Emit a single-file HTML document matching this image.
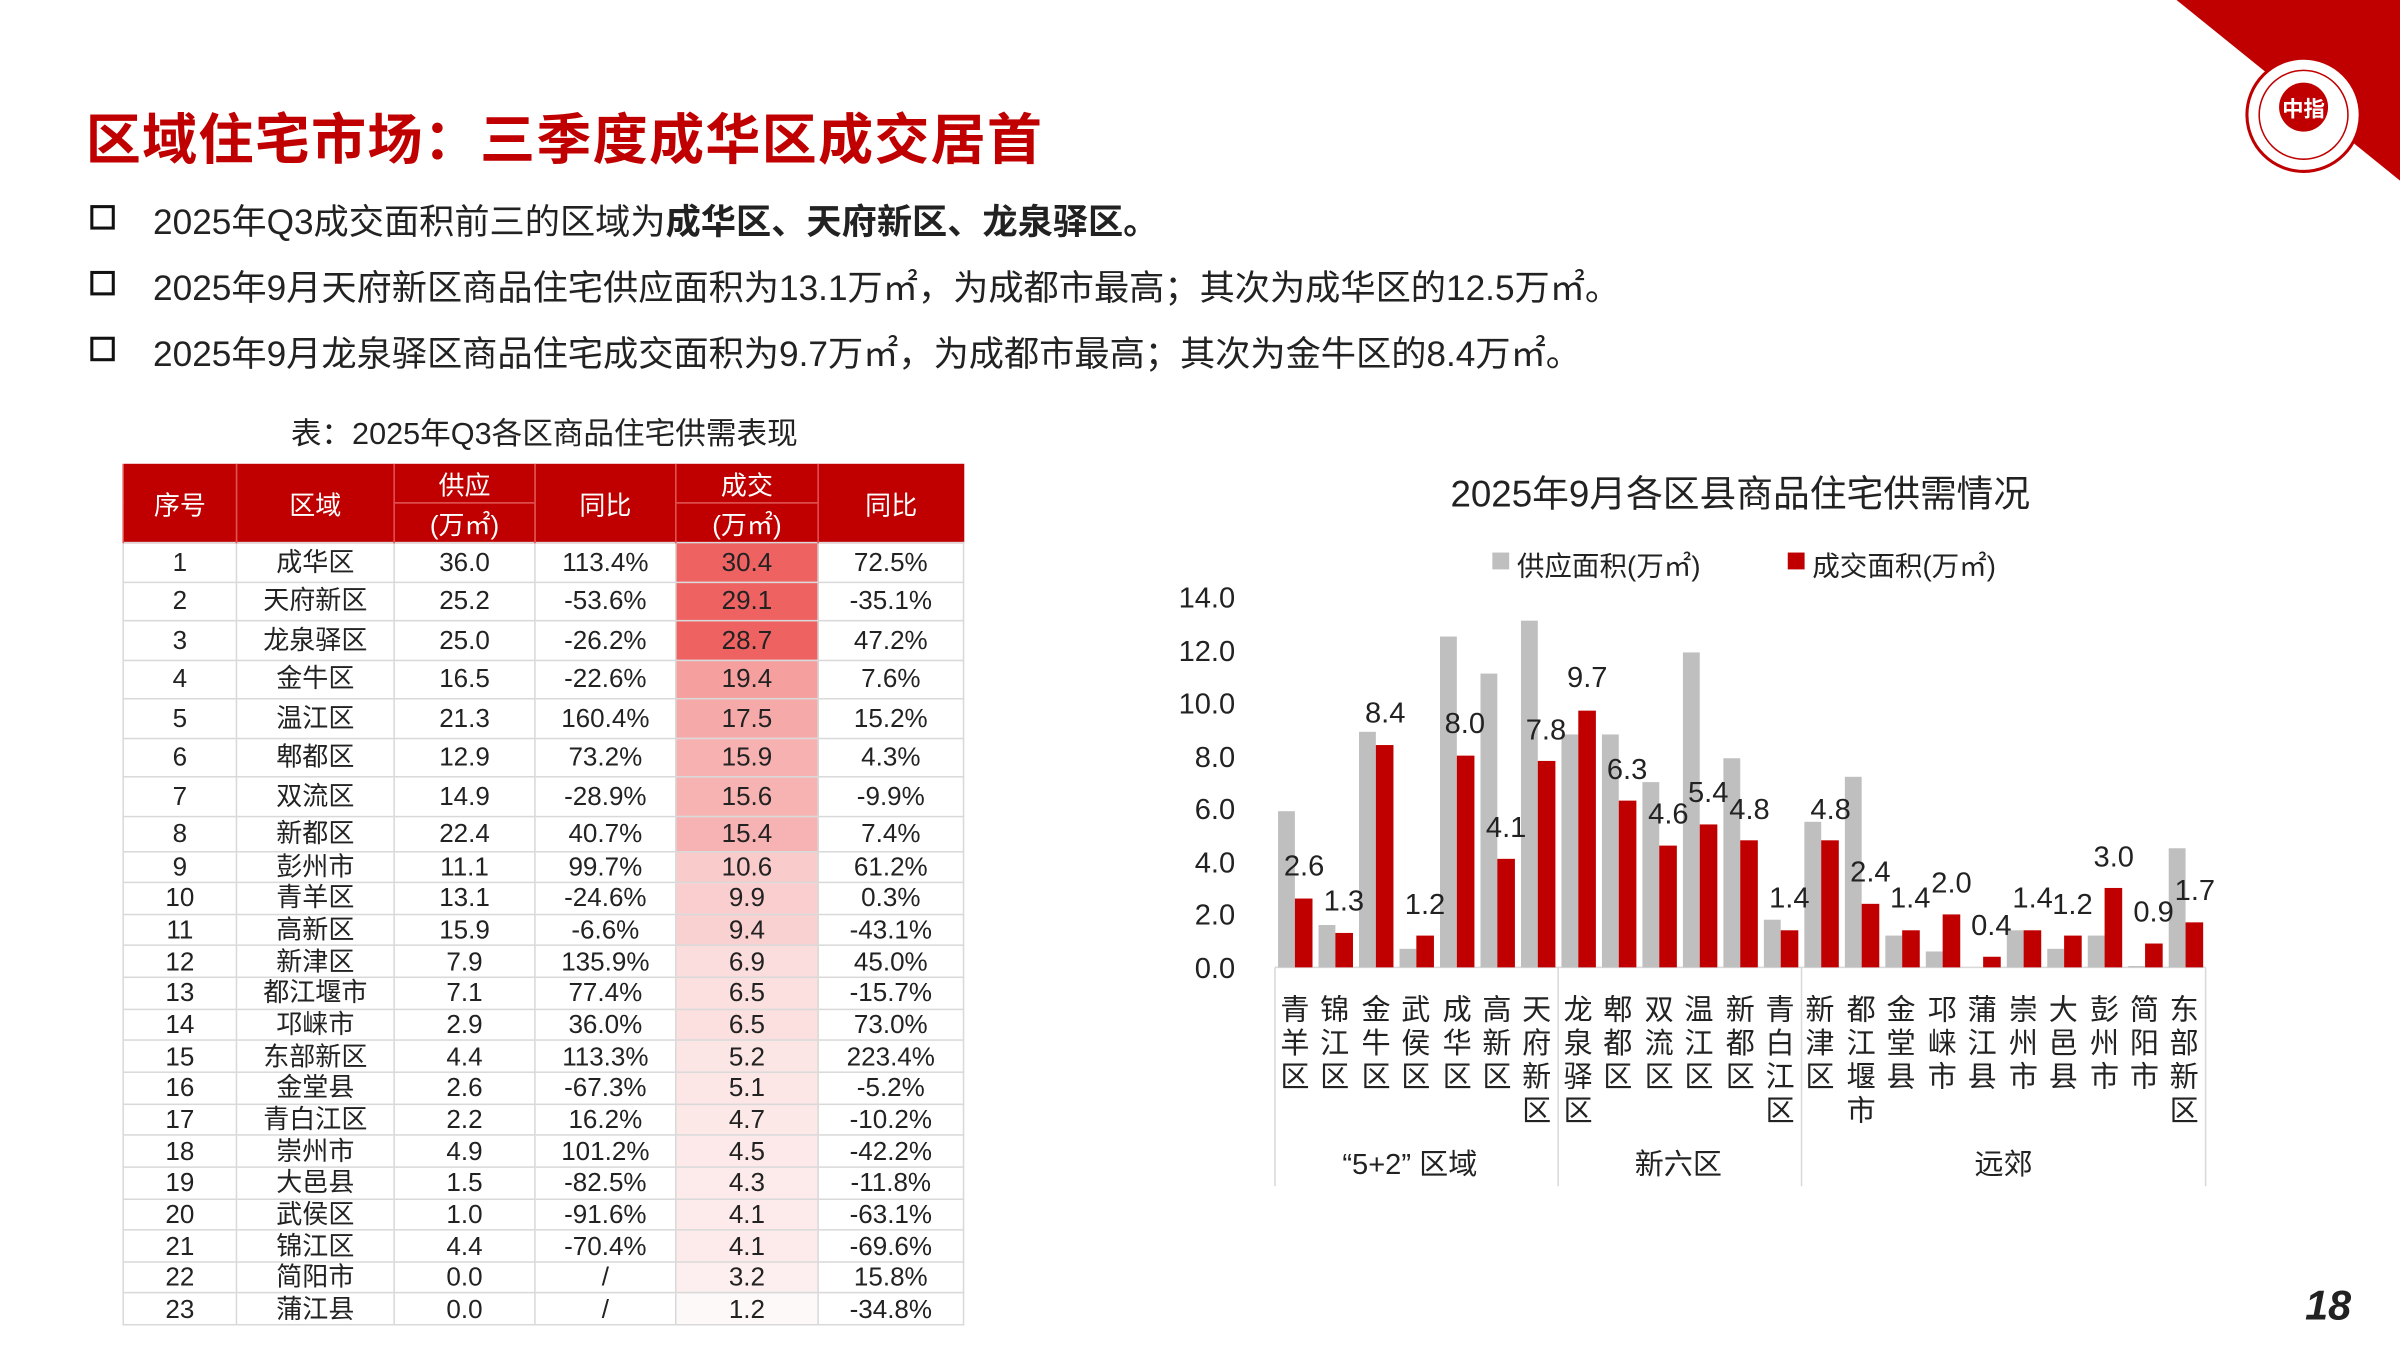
<!DOCTYPE html>
<html><head><meta charset="utf-8">
<style>
html,body{margin:0;padding:0;width:2400px;height:1350px;overflow:hidden;background:#fff}
#w{position:absolute;left:0;top:0;width:1568px;height:882px;transform:scale(1.53061);transform-origin:0 0;font-family:"Liberation Sans","Noto Sans CJK SC",sans-serif;color:#222}
.a{position:absolute;white-space:nowrap}
.title{left:56px;top:63px;font-size:36px;font-weight:bold;color:#c00000;letter-spacing:0.8px}
.bl{left:100px;font-size:23px;color:#222}
.bx{position:absolute;left:59px;width:12px;height:12px;border:2.5px solid #111}
table{position:absolute;left:80px;top:303px;border-collapse:collapse;font-size:17px;table-layout:fixed}
td{border:1px solid #d9d9d9;text-align:center;padding:0;line-height:1}
th{background:#c00000;color:#fff;font-weight:normal;font-size:17px;border-left:1px solid #e05050;padding:0}
.cat{position:absolute;top:650px;width:22px;font-size:19px;line-height:22px;text-align:center;white-space:normal;word-break:break-all;color:#222}
</style></head><body><div id="w">
<svg class="a" style="left:0;top:0" width="1568" height="882">
<polygon points="1422,0 1568,0 1568,118" fill="#c00000"/>
<circle cx="1505" cy="75" r="37" fill="#fff" stroke="#c00000" stroke-width="2"/>
<circle cx="1505" cy="75" r="29" fill="none" stroke="#c00000" stroke-width="1"/>
<circle cx="1505" cy="70" r="16" fill="#c00000"/>
<text x="1505" y="76" font-size="14" fill="#fff" text-anchor="middle" font-weight="bold" font-family="Noto Sans CJK SC">中指</text>
<line x1="833" y1="632" x2="1441" y2="632" stroke="#d9d9d9"/>
<g stroke="#d9d9d9" stroke-width="1"><line x1="833" y1="632" x2="833" y2="775"/><line x1="1018" y1="632" x2="1018" y2="775"/><line x1="1177" y1="632" x2="1177" y2="775"/><line x1="1441" y1="632" x2="1441" y2="775"/></g>
<g id="bars"></g>
<g font-size="19" fill="#222" text-anchor="end" font-family="Liberation Sans">
<text x="807" y="397">14.0</text><text x="807" y="432">12.0</text><text x="807" y="466">10.0</text><text x="807" y="501">8.0</text><text x="807" y="535">6.0</text><text x="807" y="570">4.0</text><text x="807" y="604">2.0</text><text x="807" y="639">0.0</text>
</g>
<g font-size="19" fill="#222" text-anchor="middle" font-family="Liberation Sans">
<text x="852" y="572">2.6</text><text x="878" y="595">1.3</text><text x="905" y="472">8.4</text><text x="931" y="597">1.2</text><text x="957" y="479">8.0</text><text x="984" y="547">4.1</text><text x="1010" y="483">7.8</text><text x="1037" y="449">9.7</text><text x="1063" y="509">6.3</text><text x="1090" y="538">4.6</text><text x="1116" y="524">5.4</text><text x="1143" y="535">4.8</text><text x="1169" y="593">1.4</text><text x="1196" y="535">4.8</text><text x="1222" y="576">2.4</text><text x="1248" y="593">1.4</text><text x="1275" y="583">2.0</text><text x="1301" y="611">0.4</text><text x="1328" y="593">1.4</text><text x="1354" y="597">1.2</text><text x="1381" y="566">3.0</text><text x="1407" y="602">0.9</text><text x="1434" y="588">1.7</text>
</g>
<rect x="975" y="361" width="11" height="11" fill="#bfbfbf"/><rect x="1168" y="361" width="11" height="11" fill="#c00000"/>
</svg>
<div class="a title">区域住宅市场：三季度成华区成交居首</div>
<div class="bx" style="top:134px"></div><div class="a bl" style="top:126px">2025年Q3成交面积前三的区域为<b>成华区、天府新区、龙泉驿区。</b></div>
<div class="bx" style="top:177px"></div><div class="a bl" style="top:169px">2025年9月天府新区商品住宅供应面积为13.1万㎡，为成都市最高；其次为成华区的12.5万㎡。</div>
<div class="bx" style="top:220px"></div><div class="a bl" style="top:212px">2025年9月龙泉驿区商品住宅成交面积为9.7万㎡，为成都市最高；其次为金牛区的8.4万㎡。</div>
<div class="a" style="left:190px;top:267px;font-size:20px">表：2025年Q3各区商品住宅供需表现</div>
<div class="a" style="left:1137px;top:303px;font-size:24px;transform:translateX(-50%)">2025年9月各区县商品住宅供需情况</div>
<div class="a" style="left:991px;top:356px;font-size:18px">供应面积(万㎡)</div>
<div class="a" style="left:1184px;top:356px;font-size:18px">成交面积(万㎡)</div>
<div class="a" style="left:877px;top:746px;font-size:19px">“5+2” 区域</div>
<div class="a" style="left:1068px;top:746px;font-size:19px">新六区</div>
<div class="a" style="left:1290px;top:746px;font-size:19px">远郊</div>
<div class="a" style="left:1506px;top:838px;font-size:27px;font-weight:bold;font-style:italic;color:#222">18</div>
<div id="cats">
<div class="cat" style="left:835px">青羊区</div><div class="cat" style="left:861px">锦江区</div><div class="cat" style="left:888px">金牛区</div><div class="cat" style="left:914px">武侯区</div><div class="cat" style="left:941px">成华区</div><div class="cat" style="left:967px">高新区</div><div class="cat" style="left:993px">天府新区</div><div class="cat" style="left:1020px">龙泉驿区</div><div class="cat" style="left:1046px">郫都区</div><div class="cat" style="left:1073px">双流区</div><div class="cat" style="left:1099px">温江区</div><div class="cat" style="left:1126px">新都区</div><div class="cat" style="left:1152px">青白江区</div><div class="cat" style="left:1178px">新津区</div><div class="cat" style="left:1205px">都江堰市</div><div class="cat" style="left:1231px">金堂县</div><div class="cat" style="left:1258px">邛崃市</div><div class="cat" style="left:1284px">蒲江县</div><div class="cat" style="left:1311px">崇州市</div><div class="cat" style="left:1337px">大邑县</div><div class="cat" style="left:1364px">彭州市</div><div class="cat" style="left:1390px">简阳市</div><div class="cat" style="left:1416px">东部新区</div>
</div>
<table id="t">
<colgroup><col style="width:74px"><col style="width:103px"><col style="width:92px"><col style="width:92px"><col style="width:93px"><col style="width:95px"></colgroup>
<tr style="height:25px"><th rowspan="2">序号</th><th rowspan="2">区域</th><th style="border-bottom:1px solid #e05050">供应</th><th rowspan="2">同比</th><th style="border-bottom:1px solid #e05050">成交</th><th rowspan="2">同比</th></tr>
<tr style="height:24px"><th>(万㎡)</th><th>(万㎡)</th></tr>
<tbody id="tb">
<tr><td>1</td><td>成华区</td><td>36.0</td><td>113.4%</td><td>30.4</td><td>72.5%</td></tr>
<tr><td>2</td><td>天府新区</td><td>25.2</td><td>-53.6%</td><td>29.1</td><td>-35.1%</td></tr>
<tr><td>3</td><td>龙泉驿区</td><td>25.0</td><td>-26.2%</td><td>28.7</td><td>47.2%</td></tr>
<tr><td>4</td><td>金牛区</td><td>16.5</td><td>-22.6%</td><td>19.4</td><td>7.6%</td></tr>
<tr><td>5</td><td>温江区</td><td>21.3</td><td>160.4%</td><td>17.5</td><td>15.2%</td></tr>
<tr><td>6</td><td>郫都区</td><td>12.9</td><td>73.2%</td><td>15.9</td><td>4.3%</td></tr>
<tr><td>7</td><td>双流区</td><td>14.9</td><td>-28.9%</td><td>15.6</td><td>-9.9%</td></tr>
<tr><td>8</td><td>新都区</td><td>22.4</td><td>40.7%</td><td>15.4</td><td>7.4%</td></tr>
<tr><td>9</td><td>彭州市</td><td>11.1</td><td>99.7%</td><td>10.6</td><td>61.2%</td></tr>
<tr><td>10</td><td>青羊区</td><td>13.1</td><td>-24.6%</td><td>9.9</td><td>0.3%</td></tr>
<tr><td>11</td><td>高新区</td><td>15.9</td><td>-6.6%</td><td>9.4</td><td>-43.1%</td></tr>
<tr><td>12</td><td>新津区</td><td>7.9</td><td>135.9%</td><td>6.9</td><td>45.0%</td></tr>
<tr><td>13</td><td>都江堰市</td><td>7.1</td><td>77.4%</td><td>6.5</td><td>-15.7%</td></tr>
<tr><td>14</td><td>邛崃市</td><td>2.9</td><td>36.0%</td><td>6.5</td><td>73.0%</td></tr>
<tr><td>15</td><td>东部新区</td><td>4.4</td><td>113.3%</td><td>5.2</td><td>223.4%</td></tr>
<tr><td>16</td><td>金堂县</td><td>2.6</td><td>-67.3%</td><td>5.1</td><td>-5.2%</td></tr>
<tr><td>17</td><td>青白江区</td><td>2.2</td><td>16.2%</td><td>4.7</td><td>-10.2%</td></tr>
<tr><td>18</td><td>崇州市</td><td>4.9</td><td>101.2%</td><td>4.5</td><td>-42.2%</td></tr>
<tr><td>19</td><td>大邑县</td><td>1.5</td><td>-82.5%</td><td>4.3</td><td>-11.8%</td></tr>
<tr><td>20</td><td>武侯区</td><td>1.0</td><td>-91.6%</td><td>4.1</td><td>-63.1%</td></tr>
<tr><td>21</td><td>锦江区</td><td>4.4</td><td>-70.4%</td><td>4.1</td><td>-69.6%</td></tr>
<tr><td>22</td><td>简阳市</td><td>0.0</td><td>/</td><td>3.2</td><td>15.8%</td></tr>
<tr><td>23</td><td>蒲江县</td><td>0.0</td><td>/</td><td>1.2</td><td>-34.8%</td></tr>
</tbody></table>
</div>
<script>
var sup=[5.9,1.6,8.9,0.7,12.5,11.1,13.1,8.8,8.8,7.0,11.9,7.9,1.8,5.5,7.2,1.2,0.6,0,1.4,0.7,1.2,0.05,4.5];
var sal=[2.6,1.3,8.4,1.2,8.0,4.1,7.8,9.7,6.3,4.6,5.4,4.8,1.4,4.8,2.4,1.4,2.0,0.4,1.4,1.2,3.0,0.9,1.7];
var g=document.getElementById('bars'),h='';
for(var i=0;i<23;i++){var s=833+i*26.45,k=17.29;
h+='<rect x="'+(s+2)+'" y="'+(632-sup[i]*k)+'" width="11" height="'+sup[i]*k+'" fill="#bfbfbf"/>';
h+='<rect x="'+(s+13)+'" y="'+(632-sal[i]*k)+'" width="11.5" height="'+sal[i]*k+'" fill="#c00000"/>';}
g.innerHTML=h;
var rows=document.querySelectorAll('#tb tr');
for(var r=0;r<rows.length;r++){rows[r].style.height=(r<7?25.5:(r==7?23:20.65))+'px';
var c=rows[r].children[4],v=parseFloat(c.textContent),t=Math.min(1,v/30.4);
if(r<3)t=1.05;
var R=Math.round(255-15*t),G=Math.round(255-150*t);
c.style.background='rgb('+R+','+G+','+G+')';}
</script>
</body></html>
